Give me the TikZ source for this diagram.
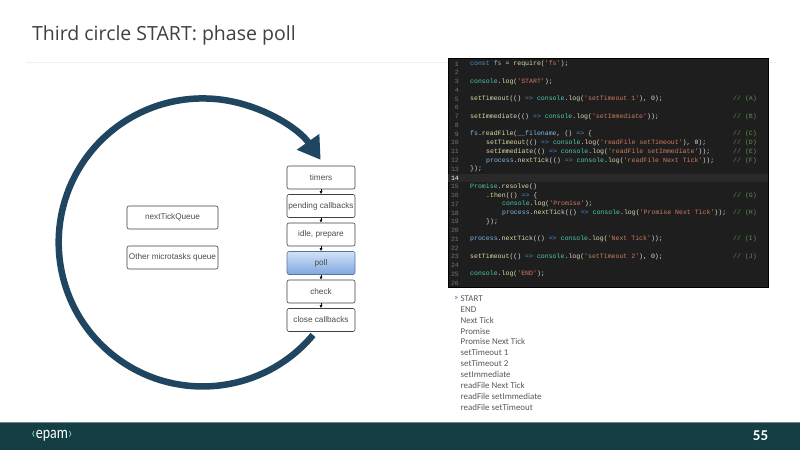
\documentclass[tikz,border=0pt]{standalone}
\usepackage{fontspec}
\setmainfont{Carlito}
\setmonofont{Liberation Mono}
\newfontfamily\titlefont{Open Sans}
\newfontfamily\boxfont{Liberation Sans}
\usepackage{xcolor}
\usetikzlibrary{arrows.meta,positioning,calc}
\definecolor{ringblue}{HTML}{1F4560}
\definecolor{band}{HTML}{153E44}
\definecolor{polltop}{HTML}{D3E2F7}
\definecolor{pollbot}{HTML}{7FA6E0}
\definecolor{codebg}{HTML}{1E1E1E}
\definecolor{cnum}{HTML}{6E7681}
\definecolor{cfun}{HTML}{DCDCAA}
\definecolor{cobj}{HTML}{4EC9B0}
\definecolor{cvar}{HTML}{7FB8E6}
\definecolor{ckey}{HTML}{4F8FD0}
\definecolor{cstr}{HTML}{CE7B5F}
\definecolor{cnote}{HTML}{5F8F50}
\definecolor{outtext}{HTML}{595959}
\newcommand{\fn}[1]{\textcolor{cfun}{#1}}
\newcommand{\ob}[1]{\textcolor{cobj}{#1}}
\newcommand{\vr}[1]{\textcolor{cvar}{#1}}
\newcommand{\ky}[1]{\textcolor{ckey}{#1}}
\newcommand{\strg}[1]{\textcolor{cstr}{#1}}
\newcommand{\conlog}[1]{\ob{console}.\fn{log}(\strg{'#1'})}
\begin{document}
\begin{tikzpicture}[x=1pt,y=-1pt,
  phase/.style={rounded corners=2pt,draw=black!75,fill=white,minimum width=68pt,minimum height=23pt,inner sep=0pt,font=\boxfont\fontsize{8.2}{9}\selectfont,text=black!70,line width=.6pt},
  queue/.style={phase,minimum width=91pt},
  pollbox/.style={phase,draw=pollbot!70!black,top color=polltop,bottom color=pollbot},
  link/.style={-{Latex[length=3pt,width=3pt]},line width=.5pt,draw=black},
  ringarrow/.style={line width=6.5pt,draw=ringblue,-{Triangle[length=22pt,width=26pt]}},
  lineno/.style={anchor=east,font=\ttfamily\fontsize{6.5}{7}\selectfont,text=cnum,inner sep=0pt},
  codeline/.style={anchor=west,font=\ttfamily\fontsize{6.55}{7}\selectfont,text=white!85!black,inner sep=0pt},
  outline/.style={anchor=west,font=\fontsize{8.9}{10}\selectfont,text=outtext,inner sep=0pt}
]
\useasboundingbox (0,0) rectangle (800,450);
% slide
\fill[white] (0,0) rectangle (800,450);
\node[anchor=west,font=\titlefont\fontsize{19.5}{24}\selectfont,text=black!75,inner sep=0pt] (title) at (32,35) {Third circle START: phase poll};
\draw[black!6,line width=1pt] (26,62) -- (776,62);
\fill[band] (0,422) rectangle (800,450);
\draw[band!60!white,line width=.8pt] (0,422.3) -- (800,422.3);
\node[font=\fontsize{15}{15}\selectfont\bfseries,text=white,inner sep=0pt] (pagenum) at (760.5,436) {55};
\node[anchor=west,font=\fontsize{17}{17}\selectfont,text=white,inner sep=0pt,xscale=.82] (logo) at (31,436) {\textcolor{cobj!70!white}{‹}epam\textcolor{cobj!70!white}{›}};
% loop
\coordinate (ringstart) at (313,335);
\draw[ringarrow] (ringstart) arc[start angle=40,end angle=325,radius=144];
% phases
\node[phase] (timers) at (321,177.5) {timers};
\node[phase,below=4.9pt of timers] (pending) {pending callbacks};
\node[phase,below=4.9pt of pending] (idle) {idle, prepare};
\node[pollbox,below=4.9pt of idle] (poll) {poll};
\node[phase,below=4.9pt of poll] (check) {check};
\node[phase,below=4.9pt of check] (close) {close callbacks};
\draw[link] (timers)--(pending); \draw[link] (pending)--(idle); \draw[link] (idle)--(poll);
\draw[link] (poll)--(check); \draw[link] (check)--(close);
\node[queue] (ticks) at (172.5,217.5) {nextTickQueue};
\node[queue,below=16.4pt of ticks] (micro) {Other microtasks queue};
% code
\node[draw=black,fill=codebg,line width=.8pt,minimum width=320pt,minimum height=229pt,anchor=north west,inner sep=0pt] (code) at (447.5,57.5) {};
\fill[white!5!codebg] (448,173.5) rectangle (767.5,181.5);
\foreach \n in {1,...,13,15,16,...,26}
  \node[lineno] (num\n) at (459,{64+(\n-1)*8.76}) {\n};
\node[lineno,text=white] (num14) at (459,{64+13*8.76}) {14};
\foreach \n/\txt in {
  1/{\ky{const} \vr{fs} = \fn{require}(\strg{'fs'});},
  3/{\conlog{START};},
  5/{\fn{setTimeout}(() \ky{=>} \conlog{setTimeout 1}, 0);},
  7/{\fn{setImmediate}(() \ky{=>} \conlog{setImmediate});},
  9/{\vr{fs}.\fn{readFile}(\vr{\_\_filename}, () \ky{=>} \{},
  13/{\});},
  15/{\ob{Promise}.\fn{resolve}()},
  21/{\vr{process}.\fn{nextTick}(() \ky{=>} \conlog{Next Tick});},
  23/{\fn{setTimeout}(() \ky{=>} \conlog{setTimeout 2}, 0);},
  25/{\conlog{END};}}
  \node[codeline] (line\n) at (470,{64+(\n-1)*8.76}) {\txt};
\foreach \n/\txt in {
  10/{\fn{setTimeout}(() \ky{=>} \conlog{readFile setTimeout}, 0);},
  11/{\fn{setImmediate}(() \ky{=>} \conlog{readFile setImmediate});},
  12/{\vr{process}.\fn{nextTick}(() \ky{=>} \conlog{readFile Next Tick});},
  16/{.\fn{then}(() \ky{=>} \{},
  19/{\});}}
  \node[codeline] (line\n) at (486,{64+(\n-1)*8.76}) {\txt};
\foreach \n/\txt in {
  17/{\conlog{Promise};},
  18/{\vr{process}.\fn{nextTick}(() \ky{=>} \conlog{Promise Next Tick});}}
  \node[codeline] (line\n) at (502,{64+(\n-1)*8.76}) {\txt};
\foreach \n/\txt in {5/A,7/B,9/C,10/D,11/E,12/F,16/G,18/H,21/I,23/J}
  \node[codeline,text=cnote] (note\n) at (733,{64+(\n-1)*8.76}) {// (\txt)};
% console output
\node[anchor=east,font=\bfseries\fontsize{8}{10}\selectfont,text=ckey,inner sep=0pt] (prompt) at (458.5,298.5) {>};
\foreach \n/\txt in {0/START,1/END,2/Next Tick,3/Promise,4/Promise Next Tick,5/setTimeout 1,6/setTimeout 2,7/setImmediate,8/readFile Next Tick,9/readFile setImmediate,10/readFile setTimeout}
  \node[outline] (out\n) at (460.5,{298.5+\n*10.85}) {\txt};
\end{tikzpicture}
\end{document}
